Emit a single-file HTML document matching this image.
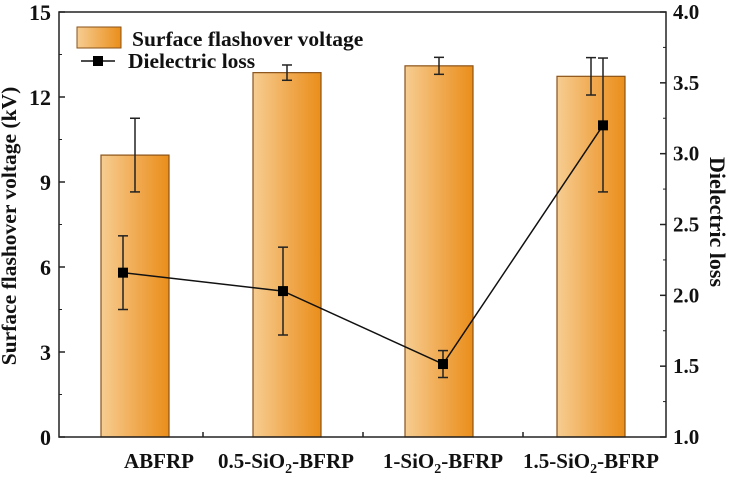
<!DOCTYPE html>
<html><head><meta charset="utf-8"><style>
body{margin:0;background:#fff}
svg text{font-family:"Liberation Serif",serif;font-weight:bold;fill:#111}
</style></head><body>
<svg id="c" width="729" height="479" xmlns="http://www.w3.org/2000/svg">
<defs><linearGradient id="g" x1="0" x2="1" y1="0" y2="0"><stop offset="0" stop-color="#f6cd92"/><stop offset="0.55" stop-color="#f0a84e"/><stop offset="1" stop-color="#ea8e1a"/></linearGradient></defs>
<g id="plot"></g>
</svg>
<script>
const categories=["ABFRP","0.5-SiO2-BFRP","1-SiO2-BFRP","1.5-SiO2-BFRP"];
const voltage=[9.95,12.86,13.1,12.73];
const voltageErr=[1.3,0.27,0.3,0.66];
const loss=[2.16,2.03,1.515,3.2];
const lossErrUp=[0.26,0.31,0.095,0.475];
const lossErrDn=[0.26,0.31,0.095,0.47];
const leftTicks=[0,3,6,9,12,15];
const rightTicks=[1.0,1.5,2.0,2.5,3.0,3.5,4.0];
const L=59,R=666,T=12,B=437;
const yL=v=>B-(v/15)*(B-T);
const yR=v=>B-((v-1)/3)*(B-T);
const xBar=i=>135+i*152;
const xPt=i=>123+i*160;
const NS="http://www.w3.org/2000/svg";
const g=document.getElementById('plot');
function mk(t,a,p){const e=document.createElementNS(NS,t);for(const k in a)e.setAttribute(k,a[k]);(p||g).appendChild(e);return e;}
function eb(x,y1,y2,nm){const gg=mk('g',{});


mk('line',{x1:x,x2:x,y1:y1,y2:y2,stroke:'#222','stroke-width':1.5},gg);
mk('line',{x1:x-5,x2:x+5,y1:y1,y2:y1,stroke:'#222','stroke-width':1.5},gg);
mk('line',{x1:x-5,x2:x+5,y1:y2,y2:y2,stroke:'#222','stroke-width':1.5},gg);}
voltage.forEach((v,i)=>{const r=mk('rect',{x:xBar(i)-34,y:yL(v),width:68,height:B-yL(v),fill:'url(#g)',stroke:'#8a5218','stroke-width':1.2});


eb(xBar(i),yL(v+voltageErr[i]),yL(v-voltageErr[i]),'bar-error-'+(i+1));});
const ln=mk('polyline',{points:loss.map((v,i)=>xPt(i)+','+yR(v)).join(' '),fill:'none',stroke:'#111','stroke-width':1.5});


loss.forEach((v,i)=>{eb(xPt(i),yR(v+lossErrUp[i]),yR(v-lossErrDn[i]),'loss-error-'+(i+1));
const p=mk('rect',{x:xPt(i)-5,y:yR(v)-5,width:10,height:10,fill:'#000'});

});
const fr=mk('rect',{x:L,y:T,width:R-L,height:B-T,fill:'none',stroke:'#222','stroke-width':1.5});


leftTicks.forEach(v=>{mk('line',{x1:L,x2:L+6,y1:yL(v),y2:yL(v),stroke:'#222','stroke-width':1.5});
if(v<15)mk('line',{x1:L,x2:L+3,y1:yL(v+1.5),y2:yL(v+1.5),stroke:'#222','stroke-width':1});
const t=mk('text',{x:L-8,y:yL(v)+8,'text-anchor':'end','font-size':22});t.textContent=v;

});
rightTicks.forEach(v=>{mk('line',{x1:R,x2:R-6,y1:yR(v),y2:yR(v),stroke:'#222','stroke-width':1.5});
if(v<4)mk('line',{x1:R,x2:R-3,y1:yR(v+0.25),y2:yR(v+0.25),stroke:'#222','stroke-width':1});
const t=mk('text',{x:R+7,y:yR(v)+7,'font-size':21});t.textContent=v.toFixed(1);

});
[203,363,523].forEach(x=>mk('line',{x1:x,x2:x,y1:B,y2:B-5,stroke:'#222','stroke-width':1.5}));
const lx=[159,286,443,591];
categories.forEach((c,i)=>{const t=mk('text',{x:lx[i],y:468,'text-anchor':'middle','font-size':21});


const m=c.match(/^(.*)SiO2(.*)$/);
if(m){t.appendChild(document.createTextNode(m[1]+'SiO'));const s=mk('tspan',{dy:5,'font-size':14},t);s.textContent='2';const s2=mk('tspan',{dy:-5},t);s2.textContent=m[2];}else t.textContent=c;});
</script>
<svg width="729" height="479" style="position:absolute;left:0;top:0" xmlns="http://www.w3.org/2000/svg">
<defs><linearGradient id="g2" x1="0" x2="1"><stop offset="0" stop-color="#f6cd92"/><stop offset="1" stop-color="#ea8e1a"/></linearGradient></defs>
<text x="16" y="226" transform="rotate(-90 16 226)" text-anchor="middle" font-size="21.5" style="font-family:'Liberation Serif',serif;font-weight:bold">Surface flashover voltage (kV)</text>
<text x="710" y="222" transform="rotate(90 710 222)" text-anchor="middle" font-size="22" style="font-family:'Liberation Serif',serif;font-weight:bold">Dielectric loss</text>
<g>
<rect x="77" y="27" width="44" height="21" fill="url(#g2)" stroke="#8a5218"/>
<text x="132" y="46" font-size="21.5" style="font-family:'Liberation Serif',serif;font-weight:bold">Surface flashover voltage</text>
<line x1="81" y1="61" x2="115" y2="61" stroke="#111" stroke-width="1.5"/>
<rect x="93" y="56" width="10" height="10" fill="#000"/>
<text x="128" y="68" font-size="21.5" style="font-family:'Liberation Serif',serif;font-weight:bold">Dielectric loss</text>
</g>
</svg>
</body></html>
